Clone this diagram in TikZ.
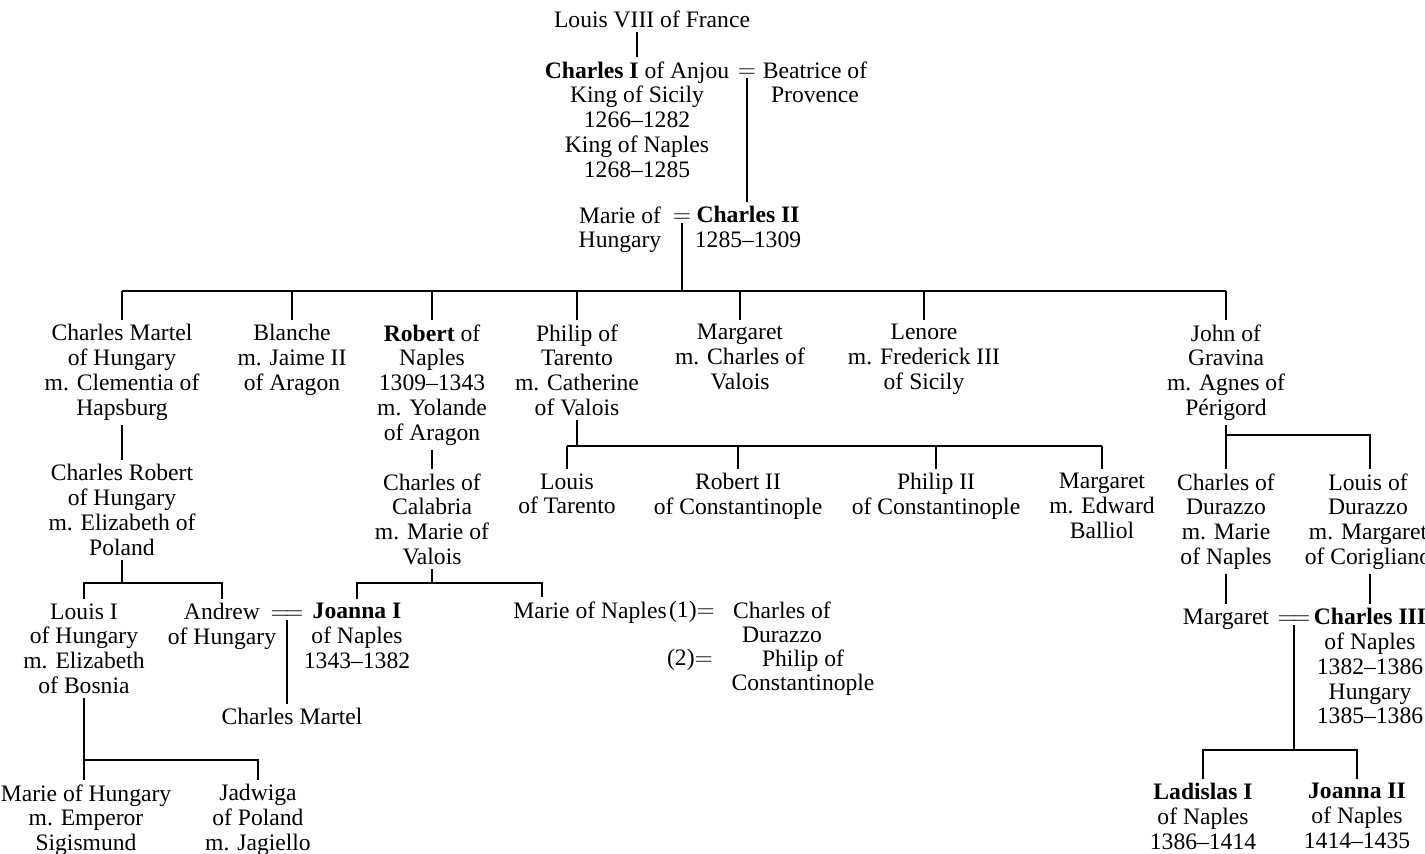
\documentclass[tikz,border=0pt]{standalone}
\usepackage{fontspec}
\setmainfont{Liberation Serif}
\newcommand\firstline{\rule{0pt}{8.2pt}}
\begin{document}
\begin{tikzpicture}[x=0.5pt,y=-0.5pt,
  every node/.style={font=\fontsize{11.8}{12.4}\selectfont},
  person/.style={align=center, anchor=north, inner xsep=0pt, inner ysep=2pt,
    execute at begin node=\firstline},
  eqs/.style={anchor=base, inner sep=0pt, text depth=0pt},
  ln/.style={line width=0.7pt}]
\fill[white] (0,0) rectangle (1425,854);
\useasboundingbox (0,0) rectangle (1425,854);

% generation 0-1
\node[person] (louis8) at (652,6) {Louis VIII of France};
\node[person] (charles1) at (637,57) {\textbf{Charles I} of Anjou\\King of Sicily\\1266--1282\\King of Naples\\1268--1285};
\node[eqs] (eq1) at (747,78) {$=$};
\node[person] (beatrice) at (815,57) {Beatrice of\\Provence};
\node[person] (marieh) at (620,202) {Marie of\\Hungary};
\node[eqs] (eq2) at (682,223) {$=$};
\node[person] (charles2) at (748,202) {\textbf{Charles II}\\1285--1309};

% children of Charles II
\node[person] (cmartel) at (122,320) {Charles Martel\\of Hungary\\m. Clementia of\\Hapsburg};
\node[person] (blanche) at (292,320) {Blanche\\m. Jaime II\\of Aragon};
\node[person] (robert) at (432,320) {\textbf{Robert} of\\Naples\\1309--1343\\m. Yolande\\of Aragon};
\node[person] (philip) at (577,320) {Philip of\\Tarento\\m. Catherine\\of Valois};
\node[person] (margaret1) at (740,320) {Margaret\\m. Charles of\\Valois};
\node[person] (lenore) at (924,320) {Lenore\\m. Frederick III\\of Sicily};
\node[person] (john) at (1226,320) {John of\\Gravina\\m. Agnes of\\Périgord};

% next generation
\node[person] (crobert) at (122,460) {Charles Robert\\of Hungary\\m. Elizabeth of\\Poland};
\node[person] (calabria) at (432,469) {Charles of\\Calabria\\m. Marie of\\Valois};
\node[person] (louisT) at (567,469) {Louis\\of Tarento};
\node[person] (robert2) at (738,469) {Robert II\\of Constantinople};
\node[person] (philip2) at (936,469) {Philip II\\of Constantinople};
\node[person] (margaret2) at (1102,469) {Margaret\\m. Edward\\Balliol};
\node[person] (cdurazzo) at (1226,469) {Charles of\\Durazzo\\m. Marie\\of Naples};
\node[person] (ldurazzo) at (1368,469) {Louis of\\Durazzo\\m. Margaret\\of Corigliano};

% grandchildren
\node[person] (louis1) at (84,599) {Louis I\\of Hungary\\m. Elizabeth\\of Bosnia};
\node[person] (andrew) at (222,599) {Andrew\\of Hungary};
\node[eqs] (eq3) at (287,620) {$=\joinrel=$};
\node[person] (joanna1) at (357,599) {\textbf{Joanna I}\\of Naples\\1343--1382};
\node[person] (cmartel2) at (292,704) {Charles Martel};
\node[person] (marieN) at (590,597) {Marie of Naples};
\node[eqs] (eq4) at (692,618) {(1)$=$};
\node[person] (charlesD) at (782,597) {Charles of\\Durazzo};
\node[eqs] (eq5) at (690,666) {(2)$=$};
\node[person] (philipC) at (803,645) {Philip of\\Constantinople};
\node[person] (margaret3) at (1226,604) {Margaret};
\node[eqs] (eq6) at (1294,625) {$=\joinrel=$};
\node[person] (charles3) at (1370,604) {\textbf{Charles III}\\of Naples\\1382--1386\\Hungary\\1385--1386};

% last generation
\node[person] (marieH) at (86,780) {Marie of Hungary\\m. Emperor\\Sigismund};
\node[person] (jadwiga) at (258,780) {Jadwiga\\of Poland\\m. Jagiello};
\node[person] (ladislas) at (1203,779) {\textbf{Ladislas I}\\of Naples\\1386--1414};
\node[person] (joanna2) at (1357,779) {\textbf{Joanna II}\\of Naples\\1414--1435};

% connectors
\coordinate (b1) at (683,291);
\coordinate (b2) at (577,446);
\coordinate (b3) at (1226,435);
\coordinate (b4) at (122,583);
\coordinate (b5) at (432,583);
\coordinate (b6) at (84,760);
\coordinate (b7) at (1294,750);
\coordinate (mn) at (542,597);

\draw[ln] (charles1.north |- louis8.south) -- (charles1.north);
\draw[ln] (eq1.south) -- (eq1.south |- charles2.north);
\draw[ln] (eq2.south) -- (eq2.south |- b1);
\draw[ln] (cmartel.north |- b1) -- (john.north |- b1);
\foreach \n in {cmartel,blanche,robert,philip,margaret1,lenore,john}
  \draw[ln] (\n.north |- b1) -- (\n.north);

\draw[ln] (cmartel.south) -- (crobert.north);
\draw[ln] (robert.south) -- (calabria.north);

\draw[ln] (philip.south) -- (b2);
\draw[ln] (louisT.north |- b2) -- (margaret2.north |- b2);
\foreach \n in {louisT,robert2,philip2,margaret2}
  \draw[ln] (\n.north |- b2) -- (\n.north);

\draw[ln] (john.south) -- (cdurazzo.north);
\draw[ln] (b3) -| (charles3.north |- ldurazzo.north);

\draw[ln] (crobert.south) -- (b4);
\draw[ln] (louis1.north) |- (b4) -| (andrew.north);

\draw[ln] (calabria.south) -- (b5);
\draw[ln] (joanna1.north) |- (b5) -| (mn);

\draw[ln] (eq3.south) -- (eq3.south |- cmartel2.north);

\draw[ln] (louis1.south) -- (louis1.south |- marieH.north);
\draw[ln] (b6) -| (jadwiga.north);

\draw[ln] (cdurazzo.south) -- (margaret3.north);
\draw[ln] (charles3.north |- ldurazzo.south) -- (charles3.north);
\draw[ln] (eq6.south) -- (b7);
\draw[ln] (ladislas.north) |- (b7) -| (joanna2.north);
\end{tikzpicture}
\end{document}
